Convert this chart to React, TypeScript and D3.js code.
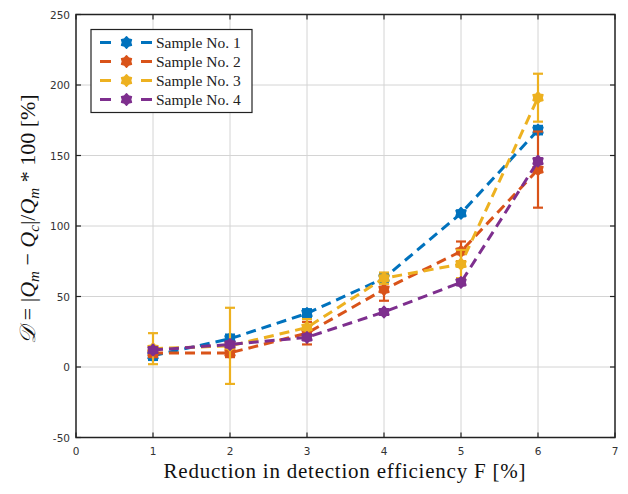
import React from 'react'
import * as d3 from 'd3'

const xs = [1, 2, 3, 4, 5, 6]
const seriesNames = ['Sample No. 1', 'Sample No. 2', 'Sample No. 3', 'Sample No. 4']
const colors = ['#0072BD', '#D95319', '#EDB120', '#7E2F8E']
const s1 = [8, 20, 38, 63, 109, 168]
const s1Err = [3, 3, 3, 3, 2, 3]
const s2 = [10, 10, 24, 55, 82, 140]
const s2Err = [3, 3, 8, 8, 7, 27]
const s3 = [13, 15, 28, 63, 73, 191]
const s3Err = [11, 27, 6, 4, 10, 17]
const s4 = [12, 16, 21, 39, 60, 146]
const s4Err = [2, 2, 2, 2, 2, 2]
const xTicks = [0, 1, 2, 3, 4, 5, 6, 7]
const yTicks = [-50, 0, 50, 100, 150, 200, 250]

const W = 628
const H = 494
const left = 76
const right = 615
const top = 14.5
const bottom = 437.5

// matlab-like hexagram marker
const hexagram = {
  draw(ctx: any, size: number) {
    const r = Math.sqrt(size) / 2
    const ri = r * 0.72
    for (let k = 0; k < 12; k++) {
      const a = (k * Math.PI) / 6 - Math.PI / 2
      const rr = k % 2 === 0 ? r : ri
      if (k === 0) ctx.moveTo(rr * Math.cos(a), rr * Math.sin(a))
      else ctx.lineTo(rr * Math.cos(a), rr * Math.sin(a))
    }
    ctx.closePath()
  }
}

export default function App() {
  const x = d3.scaleLinear().domain([0, 7]).range([left, right])
  const y = d3.scaleLinear().domain([-50, 250]).range([bottom, top])
  const values = [s1, s2, s3, s4]
  const errs = [s1Err, s2Err, s3Err, s4Err]
  const line = d3.line<number>().x((d, i) => x(xs[i])).y(d => y(d))
  const marker = d3.symbol().type(hexagram as any).size(130)()

  const tickFont = { fontFamily: 'DejaVu Sans', fontSize: 10.5, fill: '#333' }

  return (
    <svg width={W} height={H} style={{ position: 'absolute', left: 0, top: 0, background: '#fff' }}>
      <rect x={0} y={0} width={W} height={H} fill="#fff" />
      {/* grid */}
      {xTicks.slice(1, -1).map(t => (
        <line key={'gx' + t} x1={x(t)} x2={x(t)} y1={top} y2={bottom} stroke="#d4d4d4" strokeWidth={1} />
      ))}
      {yTicks.slice(1, -1).map(t => (
        <line key={'gy' + t} x1={left} x2={right} y1={y(t)} y2={y(t)} stroke="#d4d4d4" strokeWidth={1} />
      ))}
      {/* ticks */}
      {xTicks.map(t => (
        <g key={'tx' + t}>
          <line x1={x(t)} x2={x(t)} y1={bottom} y2={bottom - 5} stroke="#222" strokeWidth={1.2} />
          <line x1={x(t)} x2={x(t)} y1={top} y2={top + 5} stroke="#222" strokeWidth={1.2} />
          <text x={x(t)} y={bottom + 17} textAnchor="middle" {...tickFont}>{t}</text>
        </g>
      ))}
      {yTicks.map(t => (
        <g key={'ty' + t}>
          <line x1={left} x2={left + 5} y1={y(t)} y2={y(t)} stroke="#222" strokeWidth={1.2} />
          <line x1={right} x2={right - 5} y1={y(t)} y2={y(t)} stroke="#222" strokeWidth={1.2} />
          <text x={left - 6} y={y(t) + 4} textAnchor="end" {...tickFont}>{t}</text>
        </g>
      ))}
      {/* series */}
      {values.map((vals, si) => (
        <g key={'s' + si}>
          <path d={line(vals) || ''} fill="none" stroke={colors[si]} strokeWidth={3} strokeDasharray="10,6" />
          {vals.map((v, i) => {
            const e = errs[si][i]
            const cx = x(xs[i])
            return (
              <g key={i}>
                <line x1={cx} x2={cx} y1={y(v - e)} y2={y(v + e)} stroke={colors[si]} strokeWidth={2.2} />
                <line x1={cx - 5} x2={cx + 5} y1={y(v - e)} y2={y(v - e)} stroke={colors[si]} strokeWidth={2.2} />
                <line x1={cx - 5} x2={cx + 5} y1={y(v + e)} y2={y(v + e)} stroke={colors[si]} strokeWidth={2.2} />
                <path d={marker || ''} transform={`translate(${cx},${y(v)})`} fill={colors[si]} stroke={colors[si]} strokeWidth={1.5} strokeLinejoin="round" />
              </g>
            )
          })}
        </g>
      ))}
      {/* axes box */}
      <rect x={left} y={top} width={right - left} height={bottom - top} fill="none" stroke="#222" strokeWidth={1.5} />
      {/* legend */}
      <g>
        <rect x={91} y={29.5} width={161} height={83} fill="#fff" stroke="#222" strokeWidth={1.2} />
        {seriesNames.map((n, i) => {
          const ly = 42.5 + i * 19
          return (
            <g key={n}>
              <line x1={100} x2={152} y1={ly} y2={ly} stroke={colors[i]} strokeWidth={3} strokeDasharray="11,30" />
              <path d={marker || ''} transform={`translate(${126.5},${ly})`} fill={colors[i]} stroke={colors[i]} strokeWidth={1.5} strokeLinejoin="round" />
              <text x={156} y={ly + 5} fontFamily="Liberation Serif" fontSize={15.5} fill="#222">{n}</text>
            </g>
          )
        })}
      </g>
      {/* labels */}
      <text x={(left + right) / 2 - 1} y={478} textAnchor="middle" fontFamily="Liberation Serif" fontSize={21} fill="#111" textLength={362} lengthAdjust="spacing">
        Reduction in detection efficiency F [%]
      </text>
      <text transform={`translate(35,${(top + bottom) / 2 - 7}) rotate(-90)`} textAnchor="middle" fontFamily="Liberation Serif" fontSize={22} fill="#111">
        <tspan fontStyle="italic">𝒟</tspan>
        <tspan> = |</tspan>
        <tspan fontStyle="italic">Q</tspan>
        <tspan fontStyle="italic" fontSize={15} dy={4}>m</tspan>
        <tspan dy={-4}> − </tspan>
        <tspan fontStyle="italic">Q</tspan>
        <tspan fontStyle="italic" fontSize={15} dy={4}>c</tspan>
        <tspan dy={-4}>|/</tspan>
        <tspan fontStyle="italic">Q</tspan>
        <tspan fontStyle="italic" fontSize={15} dy={4}>m</tspan>
        <tspan dy={-4}> * 100 [%]</tspan>
      </text>
    </svg>
  )
}
